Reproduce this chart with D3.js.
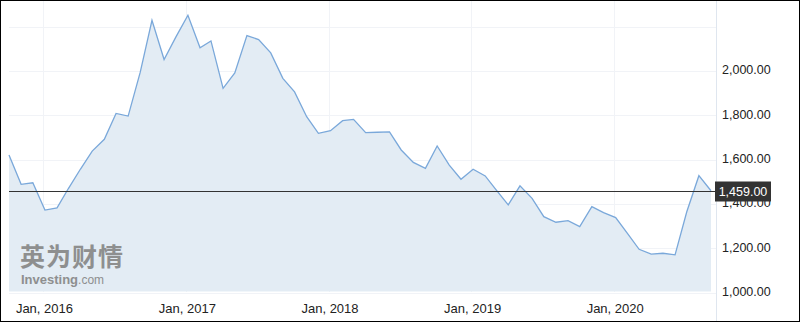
<!DOCTYPE html>
<html>
<head>
<meta charset="utf-8">
<script src="https://cdn.jsdelivr.net/npm/d3@7"></script>
<style>
  body { margin: 0; background: #fff; }
  svg { display: block; font-family: Arial, "Liberation Sans", sans-serif; }
</style>
</head>
<body>
<div id="chart"></div>
<script>
// monthly closes, Oct 2015 .. Sep 2020
const startMonth = new Date(2015, 9, 1);
const closes = [
  1620, 1488, 1495, 1372, 1382, 1469, 1557, 1638, 1691, 1808,
  1796, 1994, 2228, 2051, 2152, 2251, 2104, 2135, 1921, 1991,
  2159, 2141, 2081, 1966, 1905, 1793, 1718, 1730, 1775, 1781,
  1721, 1723, 1725, 1643, 1587, 1560, 1661, 1575, 1511, 1556,
  1526, 1463, 1395, 1481, 1425, 1342, 1317, 1324, 1297, 1387,
  1360, 1338, 1264, 1195, 1173, 1177, 1170, 1364, 1527, 1459
];
const yTicks = [1000, 1200, 1400, 1600, 1800, 2000];
const yGrid = [1000, 1200, 1400, 1600, 1800, 2000, 2200];
const lastValue = 1459;

const width = 801, height = 322;
const plot = { left: 9, right: 716, top: 1, bottom: 292 };

const data = closes.map((v, i) => ({ date: d3.timeMonth.offset(startMonth, i), value: v }));

const svg = d3.select("#chart")
  .append("svg")
  .attr("width", width)
  .attr("height", height);

const x = d3.scaleTime()
  .domain([data[0].date, data[data.length - 1].date])
  .range([plot.left, 711]);

const y = d3.scaleLinear()
  .domain([1000, 2200])
  .range([292.5, 26.5]);

// grid
svg.append("g")
  .selectAll("line")
  .data(yGrid)
  .join("line")
  .attr("x1", plot.left).attr("x2", plot.right)
  .attr("y1", d => Math.round(y(d)) + 0.5).attr("y2", d => Math.round(y(d)) + 0.5)
  .attr("stroke", "#f1f3f7");

const years = x.ticks(d3.timeYear.every(1));
svg.append("g")
  .selectAll("line")
  .data(years)
  .join("line")
  .attr("x1", d => Math.round(x(d)) - 1.5).attr("x2", d => Math.round(x(d)) - 1.5)
  .attr("y1", plot.top).attr("y2", plot.bottom)
  .attr("stroke", "#f1f3f7");

// area + line
const area = d3.area()
  .x(d => x(d.date))
  .y0(y(1000) - 1)
  .y1(d => y(d.value));

svg.append("path")
  .datum(data)
  .attr("d", area)
  .attr("fill", "#e2ebf3")
  .attr("fill-opacity", 0.95);

const line = d3.line()
  .x(d => x(d.date))
  .y(d => y(d.value));

svg.append("path")
  .datum(data)
  .attr("d", line)
  .attr("fill", "none")
  .attr("stroke", "#7aa8da")
  .attr("stroke-width", 1.3);

// watermark
const wm = svg.append("g").attr("fill", "#858585").attr("opacity", 0.9);
wm.append("text")
  .attr("x", 20).attr("y", 266)
  .attr("font-family", "'Noto Sans CJK SC', sans-serif")
  .attr("font-weight", "bold")
  .attr("font-size", 25)
  .attr("letter-spacing", 1)
  .text("英为财情");
wm.append("text")
  .attr("x", 21).attr("y", 284)
  .attr("font-size", 13)
  .attr("font-weight", "bold")
  .text("Investing")
  .append("tspan")
  .attr("font-weight", "normal")
  .attr("font-size", 12)
  .text(".com");

// right axis
svg.append("line")
  .attr("x1", plot.right + 0.5).attr("x2", plot.right + 0.5)
  .attr("y1", 0).attr("y2", height)
  .attr("stroke", "#dfe6ef");

svg.append("g")
  .attr("transform", `translate(${plot.right + 6},-1)`)
  .call(d3.axisRight(y).tickValues(yTicks).tickSize(0).tickPadding(0)
    .tickFormat(d3.format(",.2f")))
  .call(g => g.select(".domain").remove())
  .selectAll("text")
  .attr("font-size", 12.5)
  .attr("fill", "#222");

// bottom axis labels
svg.append("g")
  .attr("transform", `translate(-1,${plot.bottom + 9})`)
  .call(d3.axisBottom(x).tickValues(years).tickSize(0).tickPadding(3)
    .tickFormat(d3.timeFormat("Jan, %Y")))
  .call(g => g.select(".domain").remove())
  .selectAll("text")
  .attr("font-size", 13)
  .attr("fill", "#222");

// last price line + tag
const ly = Math.round(y(lastValue)) + 0.5;
svg.append("line")
  .attr("x1", plot.left).attr("x2", plot.right)
  .attr("y1", ly).attr("y2", ly)
  .attr("stroke", "#333")
  .attr("stroke-width", 1);

svg.append("rect")
  .attr("x", 715).attr("y", ly - 10)
  .attr("width", 56).attr("height", 20)
  .attr("fill", "#333");
svg.append("text")
  .attr("x", 743).attr("y", ly + 4.5)
  .attr("text-anchor", "middle")
  .attr("font-size", 12.5)
  .attr("fill", "#fff")
  .text(d3.format(",.2f")(lastValue));

// frame
svg.append("rect")
  .attr("x", 0.5).attr("y", 0.5)
  .attr("width", width - 2).attr("height", height - 1)
  .attr("fill", "none")
  .attr("stroke", "#000");
</script>
</body>
</html>
